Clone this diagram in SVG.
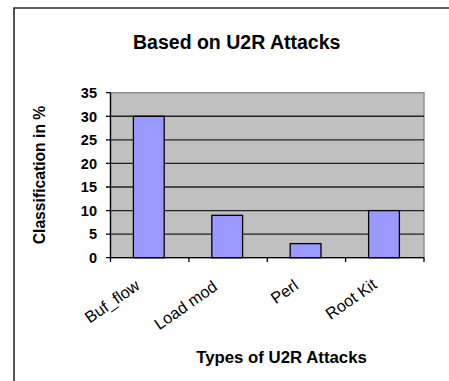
<svg xmlns="http://www.w3.org/2000/svg" width="449" height="381" viewBox="0 0 449 381">
<style>
text{font-family:"Liberation Sans",Arial,sans-serif;fill:#000}
.t{font-weight:bold}
.yl{font-weight:bold;font-size:14.5px;text-anchor:end}
.cl{font-size:16.3px;text-anchor:end}
.grid{stroke:#222;stroke-width:1.4}
.bar{fill:#9999ff;stroke:#000;stroke-width:1.3}
.ax{stroke:#000;stroke-width:1.3;fill:none}
</style>
<rect width="449" height="381" fill="#fff"/>
<g id="frame"><path d="M14,381 V8 H449" fill="none" stroke="#2a2a2a" stroke-width="1.6"/></g>
<g id="title"><text class="t" x="236.7" y="48.5" font-size="19.5" text-anchor="middle">Based on U2R Attacks</text></g>
<g id="plot">
<rect x="110.5" y="92.7" width="313.5" height="165" fill="#c0c0c0" stroke="#8c8c8c" stroke-width="1.4"/>
<g class="grid">
<line x1="110.5" y1="116.3" x2="424" y2="116.3"/>
<line x1="110.5" y1="139.9" x2="424" y2="139.9"/>
<line x1="110.5" y1="163.4" x2="424" y2="163.4"/>
<line x1="110.5" y1="187" x2="424" y2="187"/>
<line x1="110.5" y1="210.6" x2="424" y2="210.6"/>
<line x1="110.5" y1="234.1" x2="424" y2="234.1"/>
</g>
</g>
<g id="bar-buf_flow"><rect class="bar" x="133.4" y="116.3" width="30.8" height="141.4"/></g>
<g id="bar-load_mod"><rect class="bar" x="211.8" y="215.3" width="30.8" height="42.4"/></g>
<g id="bar-perl"><rect class="bar" x="290.2" y="243.6" width="30.8" height="14.1"/></g>
<g id="bar-root_kit"><rect class="bar" x="368.6" y="210.6" width="30.8" height="47.1"/></g>
<g id="axes">
<path class="ax" d="M110.5,92.7 V257.7 H424"/>
<path class="ax" d="M106,92.7 H110.5 M106,116.3 H110.5 M106,139.9 H110.5 M106,163.4 H110.5 M106,187 H110.5 M106,210.6 H110.5 M106,234.1 H110.5 M106,257.7 H110.5"/>
<path class="ax" d="M110.5,257.7 V262 M188.9,257.7 V262 M267.3,257.7 V262 M345.6,257.7 V262 M424,257.7 V262"/>
</g>
<g id="y-labels">
<text class="yl" x="97" y="98">35</text>
<text class="yl" x="97" y="121.5">30</text>
<text class="yl" x="97" y="145">25</text>
<text class="yl" x="97" y="168.5">20</text>
<text class="yl" x="97" y="192">15</text>
<text class="yl" x="97" y="215.6">10</text>
<text class="yl" x="97" y="239.2">5</text>
<text class="yl" x="97" y="262.8">0</text>
</g>
<g id="x-labels">
<text class="cl" transform="translate(141,288) rotate(-35)">Buf_flow</text>
<text class="cl" transform="translate(218.5,289) rotate(-35)">Load mod</text>
<text class="cl" transform="translate(299.5,288) rotate(-35)">Perl</text>
<text class="cl" transform="translate(378,287) rotate(-35)">Root Kit</text>
</g>
<g id="y-title"><text class="t" font-size="15.7" text-anchor="middle" transform="translate(44.5,175) rotate(-90)">Classification in %</text></g>
<g id="x-title"><text class="t" x="281.5" y="363.3" font-size="16.8" text-anchor="middle">Types of U2R Attacks</text></g>
</svg>
